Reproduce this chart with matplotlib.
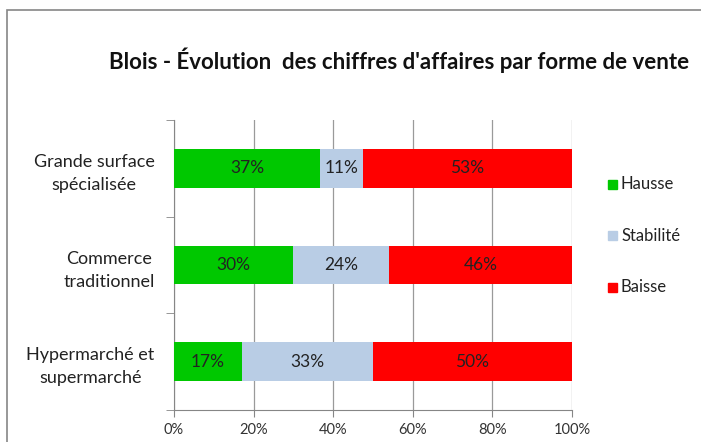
import numpy as np
import matplotlib.pyplot as plt
from matplotlib.patches import Rectangle

# data (top to bottom)
categories = ["Grande surface\nspécialisée", "Commerce\ntraditionnel", "Hypermarché et\nsupermarché"]
hausse = [37, 30, 17]
stabilite = [11, 24, 33]
baisse = [53, 46, 50]
series_names = ["Hausse", "Stabilité", "Baisse"]
colors = ["#00C800", "#B9CDE5", "#FF0000"]

plt.rcParams['font.family'] = ['Lato', 'DejaVu Sans']

W, H = 701, 442
fig = plt.figure(figsize=(W / 100, H / 100), dpi=100)

# outer chart frame (right and bottom edges are cut off in the picture)
fig.patches.append(Rectangle((7 / W, -0.1), 2, (H - 10) / H + 0.1, transform=fig.transFigure,
                             fill=False, edgecolor="#868686", linewidth=1.2))

ax = fig.add_axes([174 / W, 1 - 410 / H, (572 - 174) / W, (410 - 120) / H])

vals = np.array([hausse, stabilite, baisse], dtype=float)
totals = vals.sum(axis=0)
pct = vals / totals
y = np.arange(len(categories))[::-1]
left = np.zeros(len(categories))
for i, name in enumerate(series_names):
    ax.barh(y, pct[i], left=left, height=0.4, color=colors[i], zorder=3, label=name)
    for j in range(len(categories)):
        ax.text(left[j] + pct[i][j] / 2, y[j], f"{int(vals[i][j])}%", ha="center", va="center",
                fontsize=12.5, color="#222222", zorder=4)
    left += pct[i]

ax.set_xlim(0, 1)
ax.set_ylim(-0.5, len(categories) - 0.5)
ax.set_xticks(np.linspace(0, 1, 6))
ax.set_xticklabels([f"{int(v)}%" for v in np.linspace(0, 100, 6)], fontsize=10.5, color="#333333")
ax.xaxis.grid(True, color="#9a9a9a", linewidth=0.9, zorder=0)

# category labels without ticks, ticks at category boundaries
ax.set_yticks(y)
ax.set_yticklabels(categories, fontsize=13, color="#222222", ha="right",
                   multialignment="center", linespacing=1.55)
ax.tick_params(axis="y", length=0, pad=14)
ax.set_yticks(np.arange(len(categories) + 1) - 0.5, minor=True)
ax.tick_params(axis="y", which="minor", length=6, color="#868686")
ax.tick_params(axis="x", length=5, color="#868686", pad=4)

for s in ["top", "right"]:
    ax.spines[s].set_visible(False)
for s in ["left", "bottom"]:
    ax.spines[s].set_color("#868686")

fig.text(399 / W, 1 - 60 / H, "Blois - Évolution  des chiffres d'affaires par forme de vente",
         ha="center", va="center", fontsize=16, fontweight="bold", color="#111111")

# legend
leg_y = [184, 236, 287]
for name, c, yy in zip(series_names, colors, leg_y):
    fig.patches.append(Rectangle((608 / W, 1 - (yy + 4.5) / H), 9 / W, 9 / H,
                                 transform=fig.transFigure, color=c))
    fig.text(621 / W, 1 - yy / H, name, ha="left", va="center", fontsize=12, color="#222222")

fig.savefig("out.png", dpi=100)
